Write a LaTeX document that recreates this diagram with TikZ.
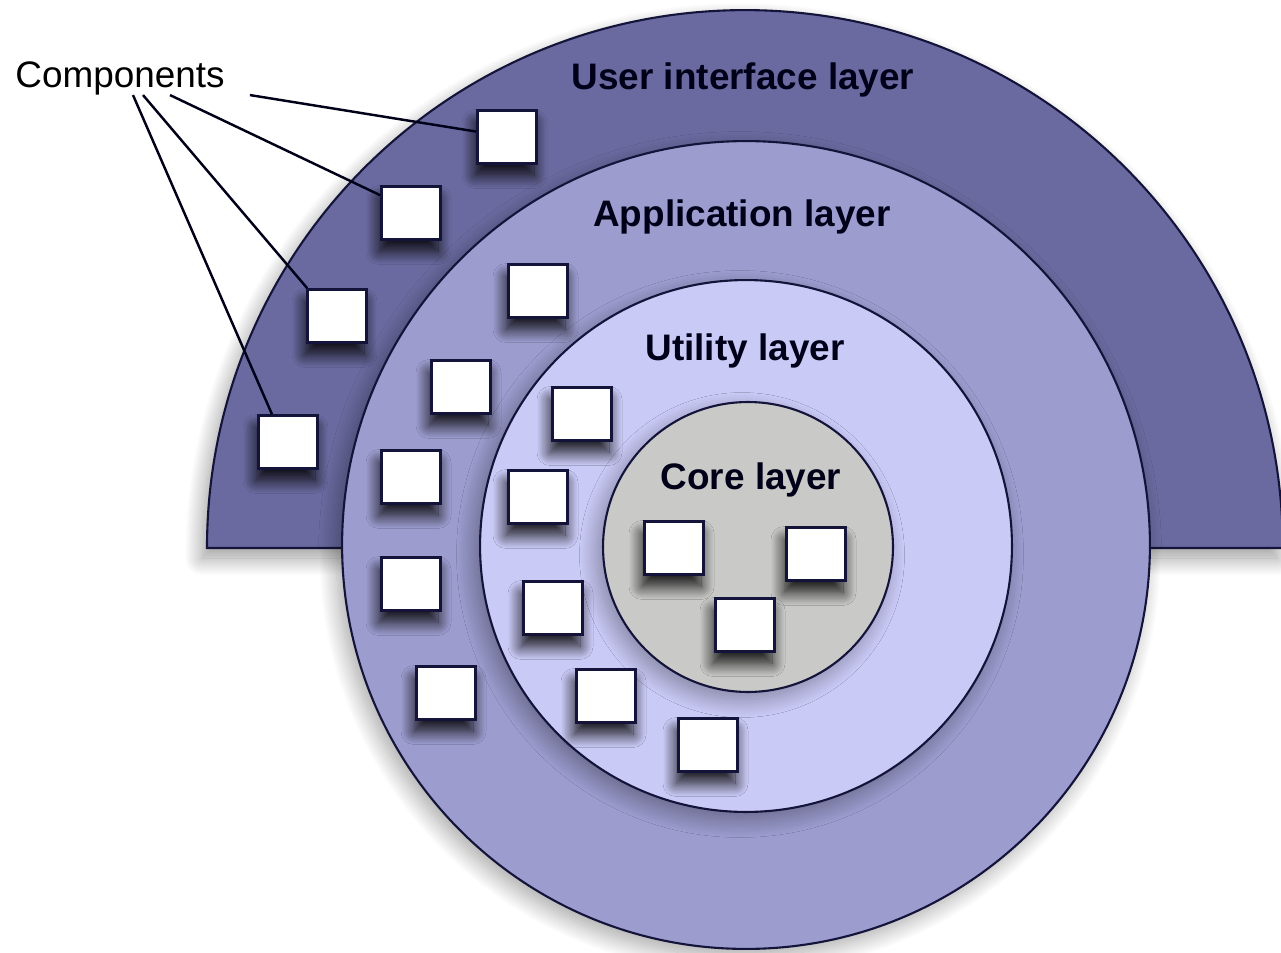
\documentclass[tikz,border=0pt]{standalone}
\usepackage{fontspec}
\setmainfont{Liberation Sans}
\usetikzlibrary{shapes,positioning,calc,shadows.blur}

\definecolor{uiC}{HTML}{6A6AA0}
\definecolor{appC}{HTML}{9C9CCF}
\definecolor{utilC}{HTML}{CACAF7}
\definecolor{coreC}{HTML}{C9C9C7}
\definecolor{edgeC}{HTML}{14143A}

\begin{document}
\begin{tikzpicture}
  [x=0.02cm,y=-0.02cm,
   layerN/.style={circle,draw=edgeC,line width=1.2pt,inner sep=0pt,
     blur shadow={shadow xshift=-0.12cm,shadow yshift=-0.16cm,
       shadow blur radius=0.35cm,shadow blur steps=20,shadow opacity=35}},
   compN/.style={draw=edgeC,line width=1.5pt,fill=white,inner sep=0pt,
     minimum width=1.18cm,minimum height=1.06cm,
     blur shadow={shadow xshift=-0.05cm,shadow yshift=-0.24cm,
       shadow blur radius=0.26cm,shadow blur steps=16,shadow opacity=90}},
   layerL/.style={font=\bfseries\fontsize{21}{25}\selectfont,text=black!90!blue},
   connN/.style={draw=black!90!blue,line width=1.4pt}]

  \useasboundingbox (0,0) rectangle (1281,953);

  % outer half disc
  \draw[draw=edgeC,line width=1.2pt,fill=uiC,
        blur shadow={shadow xshift=-0.1cm,shadow yshift=-0.2cm,
          shadow blur radius=0.35cm,shadow blur steps=20,shadow opacity=40}]
    (207,548) arc[start angle=180,end angle=0,radius=10.76cm] -- cycle;

  \node[layerN,fill=appC,minimum size=16.16cm] (app)  at (746,545) {};
  \node[layerN,fill=utilC,minimum size=10.64cm] (util) at (746,546) {};
  \node[layerN,fill=coreC,minimum size=5.8cm]   (core) at (748,547) {};

  \node[layerL] (uiT)   at (743,80)  {User interface layer};
  \node[layerL] (appT)  at (742,217) {Application layer};
  \node[layerL] (utilT) at (745,351) {Utility layer};
  \node[layerL] (coreT) at (751,480) {Core layer};

  % components in each layer
  \node[compN] (ui1) at (507,137) {};
  \node[compN] (ui2) at (411,213) {};
  \node[compN] (ui3) at (337,316) {};
  \node[compN] (ui4) at (288,442) {};

  \node[compN] (app1) at (538,291) {};
  \node[compN] (app2) at (461,387) {};
  \node[compN] (app3) at (411,477) {};
  \node[compN] (app4) at (411,584) {};
  \node[compN] (app5) at (446,693) {};

  \node[compN] (util1) at (582,414) {};
  \node[compN] (util2) at (538,497) {};
  \node[compN] (util3) at (553,608) {};
  \node[compN] (util4) at (606,696) {};
  \node[compN] (util5) at (708,745) {};

  \node[compN] (core1) at (674,548) {};
  \node[compN] (core2) at (816,554) {};
  \node[compN] (core3) at (745,625) {};

  \node[font=\fontsize{21}{25}\selectfont,inner sep=0pt] (comp) at (120,78) {Components};

  \draw[connN] ([xshift=0.5cm]comp.south east) -- (ui1.170);
  \draw[connN] ([xshift=1.0cm]comp.south) -- (ui2.150);
  \draw[connN] ([xshift=0.46cm]comp.south) -- (ui3.137);
  \draw[connN] ([xshift=0.26cm]comp.south) -- (ui4.120);

\end{tikzpicture}
\end{document}
